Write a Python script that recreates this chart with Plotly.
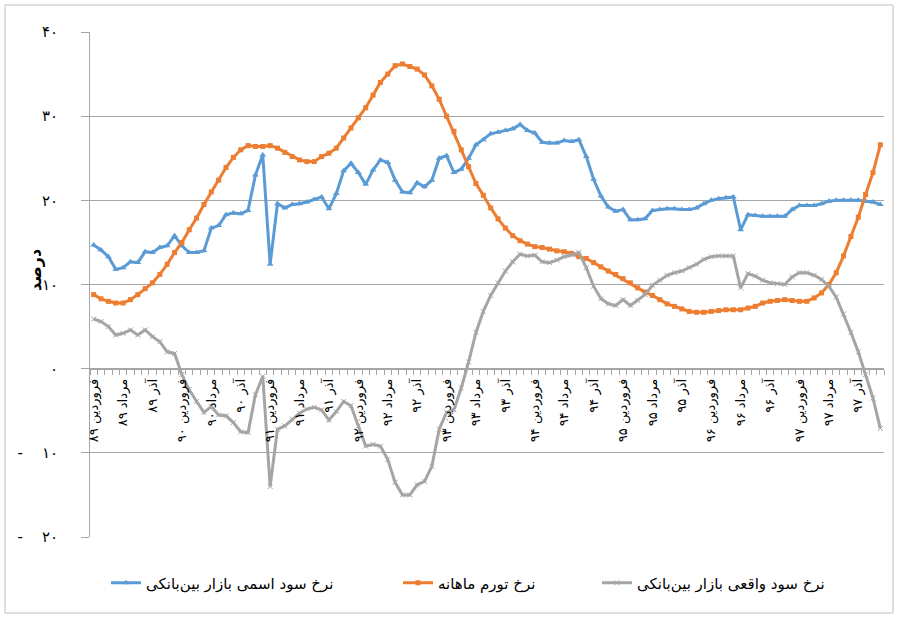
import plotly.graph_objects as go

# ---------------- data ----------------
months = ['فروردین', 'مرداد', 'آذر']
years = ['۸۹', '۹۰', '۹۱', '۹۲', '۹۳', '۹۴', '۹۵', '۹۶', '۹۷']
tick_labels = [f'{m} {y}' for y in years for m in months]

y_tick_values = [-20, -10, 0, 10, 20, 30, 40]
y_tick_labels = ['-\u00a0\u00a0\u00a0\u00a0۲۰', '-\u00a0\u00a0\u00a0\u00a0۱۰', '۰', '۱۰', '۲۰', '۳۰', '۴۰']

series_names = ['نرخ سود اسمی بازار بین\u200cبانکی',
                'نرخ تورم ماهانه',
                'نرخ سود واقعی بازار بین\u200cبانکی']

nominal_rate = [
    14.7, 14.1, 13.3, 11.8, 12.0, 12.7, 12.6, 13.9, 13.8, 14.4,
    14.6, 15.8, 14.6, 13.8, 13.8, 14.0, 16.7, 17.0, 18.3, 18.5,
    18.4, 18.8, 23.0, 25.4, 12.4, 19.6, 19.1, 19.5, 19.6, 19.8,
    20.1, 20.4, 19.0, 20.8, 23.5, 24.4, 23.3, 21.9, 23.6, 24.8,
    24.5, 22.4, 21.0, 20.9, 22.1, 21.6, 22.4, 25.0, 25.3, 23.3,
    23.7, 25.0, 26.6, 27.2, 27.9, 28.1, 28.3, 28.5, 29.0, 28.3,
    28.0, 26.9, 26.8, 26.8, 27.1, 27.0, 27.2, 25.2, 22.5, 20.5,
    19.2, 18.7, 18.9, 17.7, 17.7, 17.8, 18.8, 18.9, 19.0, 19.0,
    18.9, 18.9, 19.1, 19.6, 20.0, 20.2, 20.3, 20.4, 16.5, 18.3,
    18.2, 18.1, 18.1, 18.1, 18.1, 18.9, 19.4, 19.4, 19.4, 19.6,
    19.9, 20.0, 20.0, 20.0, 20.0, 19.9, 19.8, 19.5,
]

inflation_rate = [
    8.8, 8.3, 8.0, 7.8, 7.8, 8.2, 8.8, 9.5, 10.2, 11.2,
    12.4, 13.8, 15.0, 16.5, 17.9, 19.5, 21.0, 22.4, 23.9, 25.1,
    26.0, 26.5, 26.4, 26.4, 26.5, 26.2, 25.7, 25.2, 24.8, 24.6,
    24.6, 25.2, 25.6, 26.2, 27.4, 28.6, 29.8, 31.0, 32.5, 34.0,
    35.0, 36.0, 36.2, 35.9, 35.6, 34.9, 33.6, 32.0, 30.0, 28.2,
    26.0, 24.0, 22.0, 20.6, 19.1, 17.8, 16.7, 15.8, 15.2, 14.8,
    14.5, 14.4, 14.2, 14.0, 13.9, 13.7, 13.3, 13.1, 12.6, 12.1,
    11.6, 11.2, 10.7, 10.2, 9.6, 9.1, 8.7, 8.2, 7.7, 7.4,
    7.1, 6.8, 6.7, 6.7, 6.8, 6.9, 7.0, 7.0, 7.0, 7.2,
    7.4, 7.8, 8.0, 8.1, 8.2, 8.1, 8.0, 8.0, 8.4, 9.0,
    10.0, 11.4, 13.4, 15.7, 18.0, 20.7, 23.3, 26.6,
]

real_rate = [
    5.9, 5.6, 5.0, 4.0, 4.2, 4.6, 4.0, 4.6, 3.8, 3.2,
    2.0, 1.8, -0.7, -2.5, -3.9, -5.2, -4.5, -5.5, -5.6, -6.4,
    -7.5, -7.6, -3.1, -0.9, -14.0, -7.2, -6.8, -6.0, -5.3, -4.8,
    -4.6, -4.9, -6.1, -5.1, -3.9, -4.4, -6.8, -9.2, -9.0, -9.2,
    -10.8, -13.5, -15.0, -15.0, -13.8, -13.4, -11.6, -7.2, -5.2, -4.9,
    -2.3, 0.8, 4.3, 6.8, 8.7, 10.2, 11.6, 12.7, 13.6, 13.4,
    13.5, 12.7, 12.6, 12.9, 13.3, 13.5, 13.8, 12.0, 9.8, 8.3,
    7.7, 7.5, 8.2, 7.5, 8.1, 8.8, 9.9, 10.5, 11.1, 11.4,
    11.6, 12.0, 12.4, 13.0, 13.3, 13.4, 13.4, 13.4, 9.6, 11.3,
    11.0, 10.5, 10.2, 10.1, 10.0, 10.9, 11.4, 11.4, 11.1, 10.6,
    9.8, 8.5, 6.5, 4.3, 2.0, -0.7, -3.5, -7.1,
]

# ---------------- figure ----------------
W, H = 899, 620
L, R, T, B = 90, 15, 32, 83
PW, PH = W - L - R, H - T - B

n = len(nominal_rate)
x = list(range(n))
tick_positions = list(range(0, n, 4))[:len(tick_labels)]

BLUE, ORANGE, GRAY = '#5B9BD5', '#ED7D31', '#A5A5A5'
FONT = 'DejaVu Sans'

fig = go.Figure()
fig.add_trace(go.Scatter(
    x=x, y=nominal_rate, name=series_names[0], mode='lines+markers',
    line=dict(color=BLUE, width=3),
    marker=dict(symbol='triangle-up', size=6, color=BLUE),
    legend='legend'))
fig.add_trace(go.Scatter(
    x=x, y=inflation_rate, name=series_names[1], mode='lines+markers',
    line=dict(color=ORANGE, width=3),
    marker=dict(symbol='square', size=5, color=ORANGE),
    legend='legend2'))
fig.add_trace(go.Scatter(
    x=x, y=real_rate, name=series_names[2], mode='lines+markers',
    line=dict(color=GRAY, width=3),
    marker=dict(symbol='x-thin', size=5, color=GRAY, line=dict(width=1, color=GRAY)),
    legend='legend3'))


def px_x(p):
    return (p - L) / PW


def px_y(p):
    return (H - B - p) / PH


legend_common = dict(orientation='h', yanchor='middle', xanchor='left',
                     font=dict(family=FONT, size=15, color='black'),
                     bgcolor='rgba(0,0,0,0)')
fig.update_layout(
    width=W, height=H,
    margin=dict(l=L, r=R, t=T, b=B, pad=0),
    plot_bgcolor='white', paper_bgcolor='white',
    font=dict(family=FONT, color='black'),
    showlegend=True,
    legend=dict(x=px_x(106), y=px_y(583), **legend_common),
    legend2=dict(x=px_x(398), y=px_y(583), **legend_common),
    legend3=dict(x=px_x(597), y=px_y(583), **legend_common),
    xaxis=dict(
        range=[-0.5, n - 0.5], anchor='free', position=20 / 60,
        showline=True, linecolor='#a6a6a6', linewidth=1,
        tickmode='array', tickvals=tick_positions, ticktext=tick_labels,
        tickangle=-90, ticks='', ticklabelstandoff=4,
        tickfont=dict(family=FONT, size=13, color='black'),
        showgrid=False, zeroline=False,
        minor=dict(ticks='outside', ticklen=5, tickcolor='#a6a6a6', tickwidth=1,
                   tickmode='linear', tick0=-0.5, dtick=1, showgrid=False),
    ),
    yaxis=dict(
        range=[-20, 40], domain=[0, 1],
        tickmode='array', tickvals=y_tick_values, ticktext=y_tick_labels,
        showgrid=True, gridcolor='#a6a6a6', gridwidth=1, zeroline=False,
        showline=True, linecolor='#a6a6a6', linewidth=1,
        ticks='outside', ticklen=8, tickcolor='#a6a6a6', ticklabelstandoff=20,
        tickfont=dict(family=FONT, size=15, color='black'),
    ),
    annotations=[dict(
        text='<b>درصد</b>', textangle=-90, showarrow=False,
        xref='paper', yref='paper', x=px_x(35), y=px_y(270),
        xanchor='center', yanchor='middle',
        font=dict(family=FONT, size=16, color='black'))],
    shapes=[dict(
        type='rect', xref='paper', yref='paper',
        x0=px_x(5), x1=px_x(893), y0=px_y(613), y1=px_y(5),
        line=dict(color='#bfbfbf', width=1), fillcolor='rgba(0,0,0,0)', layer='below')],
)

fig.write_html('out.html', config={'displayModeBar': False},
               post_script="document.body.style.margin='0';")
